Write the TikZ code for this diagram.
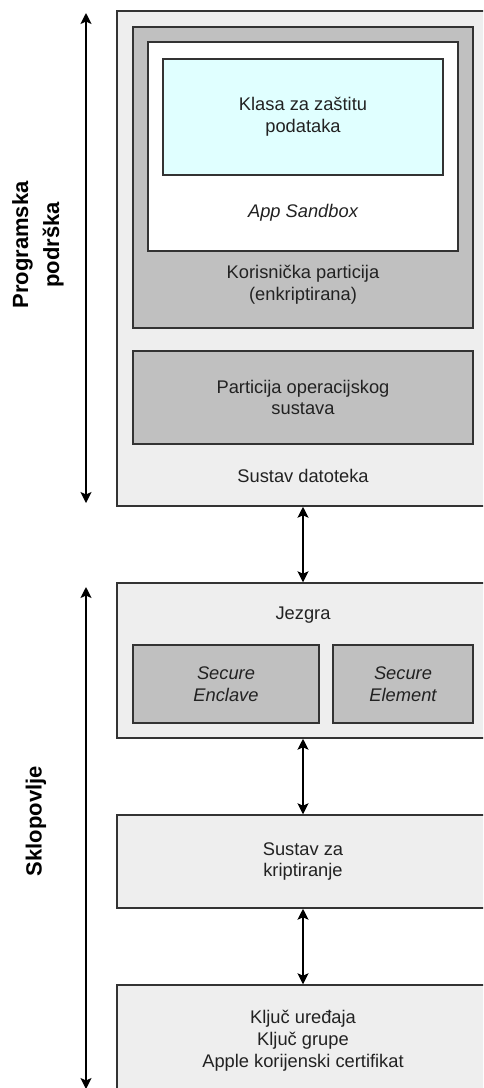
\documentclass[tikz,border=0pt]{standalone}
\usepackage{fontspec}
\setmainfont{Liberation Sans}
\usetikzlibrary{arrows.meta}
\definecolor{boxgray}{HTML}{EEEEEE}
\definecolor{midgray}{HTML}{C0C0C0}
\definecolor{cyanish}{HTML}{E0FFFF}
\definecolor{edge}{HTML}{333333}
\definecolor{txt}{HTML}{222222}
\newcommand{\mainsize}{\fontsize{18.3}{21.8}\selectfont}
\tikzset{
  box/.style={draw=edge, line width=1.5pt, rectangle, inner sep=0pt, align=center, text=txt,
    font=\mainsize},
  lbl/.style={inner sep=0pt, align=center, text=txt, font=\mainsize},
  side/.style={inner sep=0pt, align=center, text=black, rotate=90, font=\bfseries\fontsize{22}{31}\selectfont},
  conn/.style={line width=1.5pt, {Stealth[length=11pt,width=11pt,inset=2.5pt]}-{Stealth[length=11pt,width=11pt,inset=2.5pt]}}
}
\begin{document}
\begin{tikzpicture}[x=1pt,y=-1pt]
\path[use as bounding box] (0,0) rectangle (483,1088);
\clip (0,0) rectangle (483,1088);
% file system
\node[box, fill=boxgray, minimum width=372pt, minimum height=495pt] (fs) at (303,258.5) {};
\node[box, fill=midgray, minimum width=340pt, minimum height=301pt] (up) at (303,177.5) {};
\node[box, fill=white, minimum width=310pt, minimum height=209pt] (sb) at (303,146.5) {};
\node[box, fill=cyanish, minimum width=280pt, minimum height=116pt] (klasa) at (303,117) {Klasa za zaštitu\\podataka};
\node[lbl, font=\itshape\mainsize] (sbt) at (303,213) {App Sandbox};
\node[lbl] (upt) at (303,284.5) {Korisnička particija\\(enkriptirana)};
\node[box, fill=midgray, minimum width=340pt, minimum height=93pt] (os) at (303,397.5) {Particija operacijskog\\sustava};
\node[lbl] (fst) at (303,476) {Sustav datoteka};
% kernel
\node[box, fill=boxgray, minimum width=372pt, minimum height=155pt] (jez) at (303,660.5) {};
\node[lbl] (jezt) at (303,615) {Jezgra};
\node[box, fill=midgray, minimum width=186pt, minimum height=78pt, font=\itshape\mainsize] (enc) at (226,684) {Secure\\Enclave};
\node[box, fill=midgray, minimum width=140pt, minimum height=78pt, font=\itshape\mainsize] (ele) at (403,684) {Secure\\Element};
% crypto
\node[box, fill=boxgray, minimum width=372pt, minimum height=93pt] (cry) at (303,861.5) {Sustav za\\kriptiranje};
% keys
\node[box, fill=boxgray, minimum width=372pt, minimum height=112pt] (keys) at (303,1041) {Ključ uređaja\\Ključ grupe\\Apple korijenski certifikat};
% connectors
\draw[conn] (fs.south) -- (jez.north);
\draw[conn] (jez.south) -- (cry.north);
\draw[conn] (cry.south) -- (keys.north);
% side arrows
\coordinate (swtop) at (86,13);
\coordinate (swbot) at (86,503);
\coordinate (hwtop) at (86,587);
\coordinate (hwbot) at (86,1089);
\draw[conn] (swtop) -- (swbot);
\draw[conn] (hwtop) -- (hwbot);
\node[side] (swlbl) at (38,245) {Programska\\podrška};
\node[side] (hwlbl) at (36,821) {Sklopovlje};
\end{tikzpicture}
\end{document}
